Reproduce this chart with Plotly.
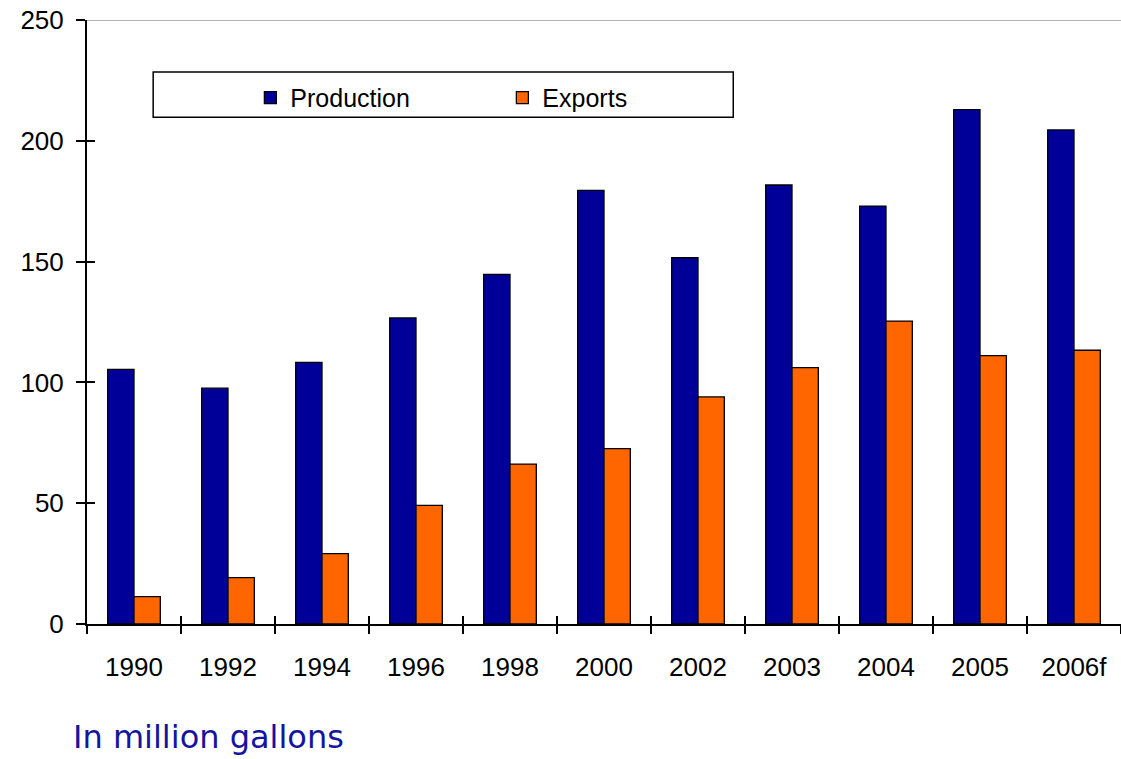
import plotly.graph_objects as go

# Fuel production and exports by year (million gallons)
years = ["1990", "1992", "1994", "1996", "1998", "2000", "2002", "2003", "2004", "2005", "2006f"]
production = [105.4, 97.6, 108.3, 126.7, 144.7, 179.5, 151.6, 181.7, 173.0, 212.9, 204.5]
exports = [11.3, 19.2, 29.1, 49.1, 66.2, 72.6, 94.0, 106.1, 125.4, 111.1, 113.3]

y_ticks = [0, 50, 100, 150, 200, 250]

NAVY = "#000099"
ORANGE = "#FF6600"
FONT = "Liberation Sans, Arial, sans-serif"

fig = go.Figure()
fig.add_trace(go.Bar(
    name="Production", x=years, y=production,
    marker=dict(color=NAVY, line=dict(color="black", width=1.3)),
))
fig.add_trace(go.Bar(
    name="Exports", x=years, y=exports,
    marker=dict(color=ORANGE, line=dict(color="black", width=1.3)),
))
# invisible helper trace so the overlay axes (inner tick halves) get drawn
fig.add_trace(go.Scatter(
    x=years, y=[0] * len(years), xaxis="x2", yaxis="y2",
    mode="none", showlegend=False, hoverinfo="skip",
))

fig.update_layout(
    width=1121, height=759,
    margin=dict(l=87, r=0, t=20, b=135),
    paper_bgcolor="white", plot_bgcolor="white",
    barmode="group", bargap=0.44, bargroupgap=0,
    font=dict(family=FONT, size=26, color="black"),
    xaxis=dict(
        type="category", categoryorder="array", categoryarray=years,
        range=[-0.5, len(years) - 0.5],
        showline=True, linecolor="black", linewidth=2,
        ticks="outside", tickson="boundaries", ticklen=8, tickwidth=1.5, tickcolor="black",
        ticklabelstandoff=19, showgrid=False, zeroline=False,
        tickfont=dict(family=FONT, size=26),
    ),
    yaxis=dict(
        range=[0, 250], tickvals=y_ticks,
        showline=True, linecolor="black", linewidth=2,
        ticks="outside", ticklen=9, tickwidth=1.5, tickcolor="black",
        ticklabelstandoff=7, showgrid=False, zeroline=False,
        tickfont=dict(family=FONT, size=26),
    ),
    xaxis2=dict(
        type="category", categoryorder="array", categoryarray=years,
        range=[-0.5, len(years) - 0.5], overlaying="x", matches="x",
        ticks="inside", tickson="boundaries", ticklen=8, tickwidth=1.5, tickcolor="black",
        showticklabels=False, showgrid=False, zeroline=False, showline=False,
    ),
    yaxis2=dict(
        range=[0, 250], tickvals=y_ticks, overlaying="y",
        ticks="inside", ticklen=8, tickwidth=1.5, tickcolor="black",
        showticklabels=False, showgrid=False, zeroline=False, showline=False,
    ),
    legend=dict(
        orientation="h", x=0.158, y=0.871, xanchor="left", yanchor="middle",
        bgcolor="rgba(0,0,0,0)", borderwidth=0,
        entrywidth=207, entrywidthmode="pixels",
        font=dict(family=FONT, size=25, color="black"),
        itemwidth=30, traceorder="normal",
    ),
    showlegend=True,
)

# top border of the plot area
fig.add_shape(type="line", xref="paper", yref="y", x0=0, x1=1, y0=250, y1=250,
              line=dict(color="#999999", width=1.5))
# legend frame
fig.add_shape(type="rect", xref="paper", yref="paper", x0=0.064, x1=0.625, y0=0.839, y1=0.914,
              line=dict(color="black", width=1.5), fillcolor="rgba(0,0,0,0)", layer="above")

fig.add_annotation(
    text="In million gallons", xref="paper", yref="paper",
    x=-0.015, y=-0.187, xanchor="left", yanchor="middle", showarrow=False,
    font=dict(family="DejaVu Sans, Verdana, sans-serif", size=32, color="#1414A0"),
)

fig.write_html("out.html")
